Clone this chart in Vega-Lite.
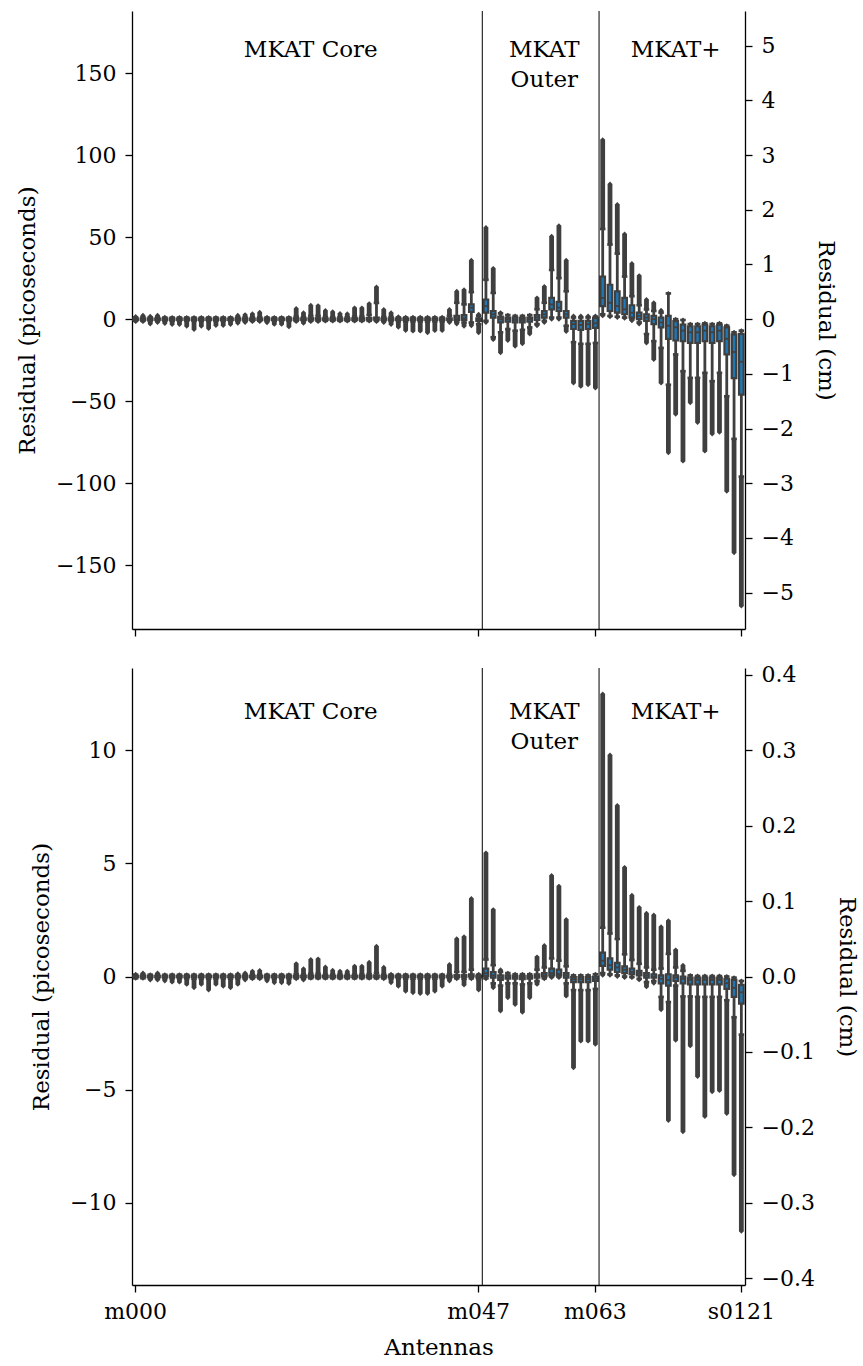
{
"$schema": "https://vega.github.io/schema/vega-lite/v6.json",
"padding": {"left": 16, "top": 10, "right": 3, "bottom": 5},
"spacing": 26,
"config": {
  "font": "DejaVu Serif",
  "view": {"stroke": null},
  "axis": {"labelFont": "DejaVu Serif", "titleFont": "DejaVu Serif", "labelFontSize": 22, "titleFontSize": 23, "titleFontWeight": "normal", "labelColor": "black", "titleColor": "black", "domainColor": "black", "tickColor": "black", "domainWidth": 1.3, "tickWidth": 1.3, "tickSize": 7, "labelPadding": 9, "grid": false}
},
"datasets": {
"p1": [
{"ant":"m000","lo":-1.5,"wlo":-1,"q1":-0.4,"med":0,"q3":0.4,"whi":1,"hi":1.6},
{"ant":"m001","lo":-1.5,"wlo":-1,"q1":-0.4,"med":0,"q3":0.4,"whi":1,"hi":2.4},
{"ant":"m002","lo":-3,"wlo":-1,"q1":-0.4,"med":0,"q3":0.4,"whi":1,"hi":1.8},
{"ant":"m003","lo":-2,"wlo":-1,"q1":-0.4,"med":0,"q3":0.4,"whi":1,"hi":2.4},
{"ant":"m004","lo":-2.6,"wlo":-1,"q1":-0.4,"med":0,"q3":0.4,"whi":1,"hi":1.2},
{"ant":"m005","lo":-3.3,"wlo":-1,"q1":-0.4,"med":0,"q3":0.4,"whi":1,"hi":1},
{"ant":"m006","lo":-3.3,"wlo":-1,"q1":-0.4,"med":0,"q3":0.4,"whi":1,"hi":1},
{"ant":"m007","lo":-4.3,"wlo":-1,"q1":-0.4,"med":0,"q3":0.4,"whi":1,"hi":1},
{"ant":"m008","lo":-6.3,"wlo":-1,"q1":-0.4,"med":0,"q3":0.4,"whi":1,"hi":1},
{"ant":"m009","lo":-4.3,"wlo":-1,"q1":-0.4,"med":0,"q3":0.4,"whi":1,"hi":1},
{"ant":"m010","lo":-5.7,"wlo":-1,"q1":-0.4,"med":0,"q3":0.4,"whi":1,"hi":1},
{"ant":"m011","lo":-3.9,"wlo":-1,"q1":-0.4,"med":0,"q3":0.4,"whi":1,"hi":1},
{"ant":"m012","lo":-3.9,"wlo":-1,"q1":-0.4,"med":0,"q3":0.4,"whi":1,"hi":1},
{"ant":"m013","lo":-3.3,"wlo":-1,"q1":-0.4,"med":0,"q3":0.4,"whi":1,"hi":1},
{"ant":"m014","lo":-2.5,"wlo":-1,"q1":-0.4,"med":0,"q3":0.4,"whi":1,"hi":2.4},
{"ant":"m015","lo":-2,"wlo":-1,"q1":-0.4,"med":0,"q3":0.4,"whi":1,"hi":2.8},
{"ant":"m016","lo":-1.5,"wlo":-1,"q1":-0.4,"med":0,"q3":0.4,"whi":1,"hi":3.3},
{"ant":"m017","lo":-1.5,"wlo":-1,"q1":-0.4,"med":0,"q3":0.4,"whi":1.2,"hi":4.2},
{"ant":"m018","lo":-2.2,"wlo":-1,"q1":-0.4,"med":0,"q3":0.4,"whi":1,"hi":1.2},
{"ant":"m019","lo":-3.2,"wlo":-1,"q1":-0.4,"med":0,"q3":0.4,"whi":1,"hi":1},
{"ant":"m020","lo":-3.2,"wlo":-1,"q1":-0.4,"med":0,"q3":0.4,"whi":1,"hi":1},
{"ant":"m021","lo":-4.7,"wlo":-1,"q1":-0.4,"med":0,"q3":0.4,"whi":1,"hi":1},
{"ant":"m022","lo":-1.5,"wlo":-1,"q1":-0.4,"med":0,"q3":0.5,"whi":1.5,"hi":6.5},
{"ant":"m023","lo":-2.5,"wlo":-1,"q1":-0.4,"med":0,"q3":0.4,"whi":1.2,"hi":3.9},
{"ant":"m024","lo":-1.5,"wlo":-1,"q1":-0.3,"med":0.2,"q3":0.6,"whi":2,"hi":8.5},
{"ant":"m025","lo":-1.5,"wlo":-1,"q1":-0.3,"med":0.2,"q3":0.6,"whi":2,"hi":8.3},
{"ant":"m026","lo":-1.2,"wlo":-1,"q1":-0.4,"med":0,"q3":0.4,"whi":1.3,"hi":5.3},
{"ant":"m027","lo":-1.2,"wlo":-1,"q1":-0.4,"med":0,"q3":0.4,"whi":1.2,"hi":4.5},
{"ant":"m028","lo":-1.2,"wlo":-1,"q1":-0.4,"med":0,"q3":0.4,"whi":1.1,"hi":3.5},
{"ant":"m029","lo":-1.2,"wlo":-1,"q1":-0.4,"med":0,"q3":0.4,"whi":1.1,"hi":3.3},
{"ant":"m030","lo":-1.2,"wlo":-1,"q1":-0.4,"med":0,"q3":0.5,"whi":1.5,"hi":6.9},
{"ant":"m031","lo":-1.2,"wlo":-1,"q1":-0.4,"med":0,"q3":0.5,"whi":1.5,"hi":6.9},
{"ant":"m032","lo":-1.2,"wlo":-1,"q1":-0.3,"med":0.2,"q3":0.7,"whi":2.5,"hi":9.5},
{"ant":"m033","lo":-1.5,"wlo":-1,"q1":-0.3,"med":0.3,"q3":1,"whi":9.9,"hi":19.7},
{"ant":"m034","lo":-2,"wlo":-1,"q1":-0.4,"med":0,"q3":0.4,"whi":1.3,"hi":5.9},
{"ant":"m035","lo":-3.3,"wlo":-1,"q1":-0.4,"med":0,"q3":0.4,"whi":1.2,"hi":3.9},
{"ant":"m036","lo":-4.9,"wlo":-1.2,"q1":-0.4,"med":0,"q3":0.4,"whi":1,"hi":1.5},
{"ant":"m037","lo":-6.9,"wlo":-1.3,"q1":-0.5,"med":0,"q3":0.4,"whi":1,"hi":1.2},
{"ant":"m038","lo":-7.3,"wlo":-1.3,"q1":-0.5,"med":0,"q3":0.4,"whi":1,"hi":1.2},
{"ant":"m039","lo":-7.3,"wlo":-1.3,"q1":-0.5,"med":0,"q3":0.4,"whi":1,"hi":1.2},
{"ant":"m040","lo":-8.3,"wlo":-1.5,"q1":-0.5,"med":0,"q3":0.4,"whi":1,"hi":1.2},
{"ant":"m041","lo":-7,"wlo":-1.3,"q1":-0.5,"med":0,"q3":0.4,"whi":1,"hi":1.2},
{"ant":"m042","lo":-7,"wlo":-1.3,"q1":-0.5,"med":0,"q3":0.4,"whi":1,"hi":1.2},
{"ant":"m043","lo":-2,"wlo":-1,"q1":-0.4,"med":0,"q3":0.5,"whi":2,"hi":5.9},
{"ant":"m044","lo":-3,"wlo":-1.5,"q1":-0.5,"med":0.5,"q3":2,"whi":10,"hi":17},
{"ant":"m045","lo":-4.3,"wlo":-2,"q1":-0.5,"med":0.5,"q3":2.5,"whi":9,"hi":18},
{"ant":"m046","lo":-4,"wlo":-2,"q1":4.5,"med":7,"q3":9,"whi":16.5,"hi":36},
{"ant":"m047","lo":-8.3,"wlo":-3,"q1":-1,"med":-0.3,"q3":0.5,"whi":2,"hi":3},
{"ant":"m048","lo":-2,"wlo":-1,"q1":4,"med":8,"q3":12,"whi":24,"hi":56},
{"ant":"m049","lo":-12.5,"wlo":-11,"q1":1,"med":3,"q3":5,"whi":16,"hi":31},
{"ant":"m050","lo":-20.5,"wlo":-8,"q1":-2,"med":0,"q3":1.5,"whi":3.5,"hi":4},
{"ant":"m051","lo":-13,"wlo":-6,"q1":-1.5,"med":0,"q3":1,"whi":2.5,"hi":2.5},
{"ant":"m052","lo":-16.5,"wlo":-7,"q1":-2,"med":-0.5,"q3":1,"whi":2,"hi":2},
{"ant":"m053","lo":-15,"wlo":-6.5,"q1":-2,"med":-0.5,"q3":0.8,"whi":2,"hi":2},
{"ant":"m054","lo":-9,"wlo":-5,"q1":-1.5,"med":0,"q3":1,"whi":2.5,"hi":2.5},
{"ant":"m055","lo":-4,"wlo":-3,"q1":-0.5,"med":1,"q3":2.5,"whi":6,"hi":13},
{"ant":"m056","lo":-2,"wlo":-1,"q1":1,"med":3,"q3":5,"whi":10,"hi":20},
{"ant":"m057","lo":0,"wlo":1,"q1":6,"med":9,"q3":13,"whi":30,"hi":50.6},
{"ant":"m058","lo":0,"wlo":1,"q1":5,"med":7,"q3":10.5,"whi":25,"hi":57},
{"ant":"m059","lo":-7.5,"wlo":-4,"q1":1,"med":3,"q3":5,"whi":17,"hi":36},
{"ant":"m060","lo":-39,"wlo":-14,"q1":-6,"med":-3,"q3":-1,"whi":1,"hi":2},
{"ant":"m061","lo":-41,"wlo":-15,"q1":-6.5,"med":-3.5,"q3":-1,"whi":1,"hi":2},
{"ant":"m062","lo":-40,"wlo":-15,"q1":-6,"med":-3,"q3":-1,"whi":1,"hi":2},
{"ant":"m063","lo":-42,"wlo":-14.5,"q1":-5.3,"med":-2.5,"q3":0.8,"whi":1.5,"hi":2},
{"ant":"s0000","lo":2,"wlo":3,"q1":8,"med":13,"q3":26,"whi":55,"hi":109.5},
{"ant":"s0001","lo":1.5,"wlo":2,"q1":5,"med":10,"q3":21,"whi":45.5,"hi":82.5},
{"ant":"s0002","lo":1,"wlo":1.5,"q1":4,"med":8,"q3":17,"whi":40,"hi":70},
{"ant":"s0003","lo":0.5,"wlo":1,"q1":3,"med":6,"q3":13,"whi":26,"hi":52},
{"ant":"s0005","lo":-1,"wlo":0,"q1":1,"med":4,"q3":8.5,"whi":14,"hi":34},
{"ant":"s0006","lo":-3,"wlo":-2,"q1":0,"med":2,"q3":4,"whi":8.5,"hi":26.6},
{"ant":"s0017","lo":-14.5,"wlo":-9,"q1":-1,"med":1,"q3":3,"whi":6,"hi":12},
{"ant":"s0018","lo":-24.6,"wlo":-13.4,"q1":-3,"med":0,"q3":2,"whi":5,"hi":10},
{"ant":"s0020","lo":-39,"wlo":-17.5,"q1":-5,"med":-2,"q3":1,"whi":4,"hi":5.5},
{"ant":"s0023","lo":-81.5,"wlo":-40,"q1":-12,"med":-4,"q3":2,"whi":15.7,"hi":15.7},
{"ant":"s0033","lo":-58,"wlo":-21.5,"q1":-13,"med":-5,"q3":-1.2,"whi":0,"hi":0},
{"ant":"s0036","lo":-86.6,"wlo":-31.7,"q1":-13.4,"med":-7,"q3":-3.3,"whi":-0.5,"hi":-0.5},
{"ant":"s0063","lo":-51,"wlo":-35.8,"q1":-14.4,"med":-8,"q3":-4.3,"whi":-3,"hi":-3},
{"ant":"s0070","lo":-63,"wlo":-35.8,"q1":-14.4,"med":-8,"q3":-4.3,"whi":-3,"hi":-3},
{"ant":"s0081","lo":-80.5,"wlo":-32.7,"q1":-13.4,"med":-7,"q3":-3.3,"whi":-2.5,"hi":-2.5},
{"ant":"s0082","lo":-70,"wlo":-37.8,"q1":-14.4,"med":-8,"q3":-4.3,"whi":-3,"hi":-3},
{"ant":"s0083","lo":-69,"wlo":-32.7,"q1":-13.4,"med":-7,"q3":-3.3,"whi":-2.5,"hi":-2.5},
{"ant":"s0115","lo":-105,"wlo":-47,"q1":-21.5,"med":-12,"q3":-5,"whi":-4,"hi":-4},
{"ant":"s0117","lo":-142.5,"wlo":-73,"q1":-36,"med":-20,"q3":-9.3,"whi":-8,"hi":-8},
{"ant":"s0121","lo":-175,"wlo":-96,"q1":-46,"med":-26,"q3":-9,"whi":-7,"hi":-7}
],
"p2": [
{"ant":"m000","lo":-0.08,"wlo":-0.08,"q1":-0.03,"med":0,"q3":0.03,"whi":0.08,"hi":0.1},
{"ant":"m001","lo":-0.08,"wlo":-0.08,"q1":-0.03,"med":0,"q3":0.03,"whi":0.08,"hi":0.16},
{"ant":"m002","lo":-0.16,"wlo":-0.08,"q1":-0.03,"med":0,"q3":0.03,"whi":0.08,"hi":0.08},
{"ant":"m003","lo":-0.16,"wlo":-0.08,"q1":-0.03,"med":0,"q3":0.03,"whi":0.08,"hi":0.16},
{"ant":"m004","lo":-0.2,"wlo":-0.08,"q1":-0.03,"med":0,"q3":0.03,"whi":0.08,"hi":0.08},
{"ant":"m005","lo":-0.25,"wlo":-0.08,"q1":-0.03,"med":0,"q3":0.03,"whi":0.08,"hi":0.08},
{"ant":"m006","lo":-0.25,"wlo":-0.08,"q1":-0.03,"med":0,"q3":0.03,"whi":0.08,"hi":0.08},
{"ant":"m007","lo":-0.35,"wlo":-0.08,"q1":-0.03,"med":0,"q3":0.03,"whi":0.08,"hi":0.08},
{"ant":"m008","lo":-0.5,"wlo":-0.1,"q1":-0.03,"med":0,"q3":0.03,"whi":0.08,"hi":0.08},
{"ant":"m009","lo":-0.35,"wlo":-0.08,"q1":-0.03,"med":0,"q3":0.03,"whi":0.08,"hi":0.08},
{"ant":"m010","lo":-0.6,"wlo":-0.1,"q1":-0.03,"med":0,"q3":0.03,"whi":0.08,"hi":0.08},
{"ant":"m011","lo":-0.35,"wlo":-0.08,"q1":-0.03,"med":0,"q3":0.03,"whi":0.08,"hi":0.08},
{"ant":"m012","lo":-0.43,"wlo":-0.08,"q1":-0.03,"med":0,"q3":0.03,"whi":0.08,"hi":0.08},
{"ant":"m013","lo":-0.5,"wlo":-0.1,"q1":-0.03,"med":0,"q3":0.03,"whi":0.08,"hi":0.08},
{"ant":"m014","lo":-0.35,"wlo":-0.08,"q1":-0.03,"med":0,"q3":0.03,"whi":0.08,"hi":0.12},
{"ant":"m015","lo":-0.16,"wlo":-0.08,"q1":-0.03,"med":0,"q3":0.03,"whi":0.08,"hi":0.16},
{"ant":"m016","lo":-0.1,"wlo":-0.08,"q1":-0.03,"med":0,"q3":0.03,"whi":0.08,"hi":0.24},
{"ant":"m017","lo":-0.1,"wlo":-0.08,"q1":-0.03,"med":0,"q3":0.03,"whi":0.08,"hi":0.27},
{"ant":"m018","lo":-0.2,"wlo":-0.08,"q1":-0.03,"med":0,"q3":0.03,"whi":0.08,"hi":0.08},
{"ant":"m019","lo":-0.28,"wlo":-0.08,"q1":-0.03,"med":0,"q3":0.03,"whi":0.08,"hi":0.08},
{"ant":"m020","lo":-0.28,"wlo":-0.08,"q1":-0.03,"med":0,"q3":0.03,"whi":0.08,"hi":0.08},
{"ant":"m021","lo":-0.31,"wlo":-0.08,"q1":-0.03,"med":0,"q3":0.03,"whi":0.08,"hi":0.08},
{"ant":"m022","lo":-0.1,"wlo":-0.08,"q1":-0.03,"med":0,"q3":0.03,"whi":0.1,"hi":0.57},
{"ant":"m023","lo":-0.16,"wlo":-0.08,"q1":-0.03,"med":0,"q3":0.03,"whi":0.08,"hi":0.34},
{"ant":"m024","lo":-0.08,"wlo":-0.08,"q1":-0.03,"med":0,"q3":0.04,"whi":0.12,"hi":0.75},
{"ant":"m025","lo":-0.08,"wlo":-0.08,"q1":-0.03,"med":0,"q3":0.04,"whi":0.12,"hi":0.78},
{"ant":"m026","lo":-0.08,"wlo":-0.08,"q1":-0.03,"med":0,"q3":0.03,"whi":0.08,"hi":0.42},
{"ant":"m027","lo":-0.08,"wlo":-0.08,"q1":-0.03,"med":0,"q3":0.03,"whi":0.08,"hi":0.28},
{"ant":"m028","lo":-0.08,"wlo":-0.08,"q1":-0.03,"med":0,"q3":0.03,"whi":0.08,"hi":0.24},
{"ant":"m029","lo":-0.08,"wlo":-0.08,"q1":-0.03,"med":0,"q3":0.03,"whi":0.08,"hi":0.24},
{"ant":"m030","lo":-0.08,"wlo":-0.08,"q1":-0.03,"med":0,"q3":0.03,"whi":0.08,"hi":0.46},
{"ant":"m031","lo":-0.08,"wlo":-0.08,"q1":-0.03,"med":0,"q3":0.03,"whi":0.08,"hi":0.46},
{"ant":"m032","lo":-0.08,"wlo":-0.08,"q1":-0.03,"med":0,"q3":0.04,"whi":0.1,"hi":0.63},
{"ant":"m033","lo":-0.08,"wlo":-0.08,"q1":-0.03,"med":0,"q3":0.05,"whi":0.15,"hi":1.34},
{"ant":"m034","lo":-0.1,"wlo":-0.08,"q1":-0.03,"med":0,"q3":0.03,"whi":0.08,"hi":0.41},
{"ant":"m035","lo":-0.28,"wlo":-0.08,"q1":-0.03,"med":0,"q3":0.03,"whi":0.08,"hi":0.1},
{"ant":"m036","lo":-0.43,"wlo":-0.08,"q1":-0.03,"med":0,"q3":0.03,"whi":0.08,"hi":0.08},
{"ant":"m037","lo":-0.65,"wlo":-0.1,"q1":-0.03,"med":0,"q3":0.03,"whi":0.08,"hi":0.08},
{"ant":"m038","lo":-0.72,"wlo":-0.1,"q1":-0.03,"med":0,"q3":0.03,"whi":0.08,"hi":0.08},
{"ant":"m039","lo":-0.75,"wlo":-0.1,"q1":-0.03,"med":0,"q3":0.03,"whi":0.08,"hi":0.08},
{"ant":"m040","lo":-0.75,"wlo":-0.1,"q1":-0.03,"med":0,"q3":0.03,"whi":0.08,"hi":0.08},
{"ant":"m041","lo":-0.65,"wlo":-0.1,"q1":-0.03,"med":0,"q3":0.03,"whi":0.08,"hi":0.08},
{"ant":"m042","lo":-0.43,"wlo":-0.08,"q1":-0.03,"med":0,"q3":0.03,"whi":0.08,"hi":0.08},
{"ant":"m043","lo":-0.2,"wlo":-0.08,"q1":-0.03,"med":0,"q3":0.03,"whi":0.1,"hi":0.53},
{"ant":"m044","lo":-0.1,"wlo":-0.08,"q1":-0.02,"med":0.02,"q3":0.06,"whi":0.2,"hi":1.67},
{"ant":"m045","lo":-0.38,"wlo":-0.1,"q1":-0.02,"med":0.02,"q3":0.06,"whi":0.2,"hi":1.76},
{"ant":"m046","lo":-0.1,"wlo":-0.08,"q1":0,"med":0.05,"q3":0.1,"whi":0.3,"hi":3.45},
{"ant":"m047","lo":-0.6,"wlo":-0.12,"q1":-0.04,"med":0,"q3":0.03,"whi":0.08,"hi":0.1},
{"ant":"m048","lo":-0.1,"wlo":-0.08,"q1":0.03,"med":0.15,"q3":0.35,"whi":0.75,"hi":5.47},
{"ant":"m049","lo":-0.5,"wlo":-0.3,"q1":-0.05,"med":0.05,"q3":0.2,"whi":0.5,"hi":2.96},
{"ant":"m050","lo":-1.53,"wlo":-0.4,"q1":-0.15,"med":-0.05,"q3":0.05,"whi":0.2,"hi":0.3},
{"ant":"m051","lo":-0.94,"wlo":-0.3,"q1":-0.1,"med":-0.03,"q3":0.05,"whi":0.15,"hi":0.15},
{"ant":"m052","lo":-1.24,"wlo":-0.3,"q1":-0.1,"med":-0.03,"q3":0.03,"whi":0.1,"hi":0.1},
{"ant":"m053","lo":-1.58,"wlo":-0.35,"q1":-0.12,"med":-0.04,"q3":0.03,"whi":0.1,"hi":0.1},
{"ant":"m054","lo":-0.94,"wlo":-0.3,"q1":-0.1,"med":-0.03,"q3":0.03,"whi":0.1,"hi":0.1},
{"ant":"m055","lo":-0.35,"wlo":-0.2,"q1":-0.05,"med":0.02,"q3":0.1,"whi":0.3,"hi":0.87},
{"ant":"m056","lo":-0.1,"wlo":-0.08,"q1":0,"med":0.05,"q3":0.15,"whi":0.4,"hi":1.37},
{"ant":"m057","lo":-0.05,"wlo":0,"q1":0.05,"med":0.15,"q3":0.35,"whi":0.8,"hi":4.47},
{"ant":"m058","lo":-0.05,"wlo":0,"q1":0.05,"med":0.12,"q3":0.3,"whi":0.7,"hi":4.0},
{"ant":"m059","lo":-0.87,"wlo":-0.3,"q1":-0.05,"med":0.05,"q3":0.15,"whi":0.45,"hi":2.52},
{"ant":"m060","lo":-4.04,"wlo":-0.6,"q1":-0.25,"med":-0.12,"q3":-0.03,"whi":0.05,"hi":0.05},
{"ant":"m061","lo":-2.86,"wlo":-0.6,"q1":-0.25,"med":-0.12,"q3":-0.03,"whi":0.05,"hi":0.05},
{"ant":"m062","lo":-2.86,"wlo":-0.6,"q1":-0.25,"med":-0.12,"q3":-0.03,"whi":0.05,"hi":0.05},
{"ant":"m063","lo":-3.0,"wlo":-0.55,"q1":-0.2,"med":-0.1,"q3":0,"whi":0.1,"hi":0.1},
{"ant":"s0000","lo":0.05,"wlo":0.15,"q1":0.47,"med":0.7,"q3":1.06,"whi":2.16,"hi":12.5},
{"ant":"s0001","lo":0.05,"wlo":0.1,"q1":0.3,"med":0.5,"q3":0.8,"whi":1.9,"hi":9.8},
{"ant":"s0002","lo":0,"wlo":0.05,"q1":0.2,"med":0.4,"q3":0.6,"whi":1.66,"hi":7.57},
{"ant":"s0003","lo":-0.05,"wlo":0,"q1":0.15,"med":0.3,"q3":0.45,"whi":0.98,"hi":4.83},
{"ant":"s0005","lo":-0.05,"wlo":-0.02,"q1":0.1,"med":0.2,"q3":0.35,"whi":0.73,"hi":3.6},
{"ant":"s0006","lo":-0.15,"wlo":-0.1,"q1":0.05,"med":0.15,"q3":0.25,"whi":0.56,"hi":3.06},
{"ant":"s0017","lo":-0.46,"wlo":-0.25,"q1":-0.05,"med":0.05,"q3":0.15,"whi":0.4,"hi":2.8},
{"ant":"s0018","lo":-0.3,"wlo":-0.2,"q1":-0.05,"med":0,"q3":0.1,"whi":0.3,"hi":2.72},
{"ant":"s0020","lo":-1.47,"wlo":-0.9,"q1":-0.3,"med":-0.1,"q3":0.05,"whi":0.35,"hi":2.2},
{"ant":"s0023","lo":-6.37,"wlo":-1.13,"q1":-0.4,"med":-0.15,"q3":0.1,"whi":1.0,"hi":2.47},
{"ant":"s0033","lo":-2.82,"wlo":-0.4,"q1":-0.2,"med":-0.05,"q3":0.05,"whi":0.4,"hi":1.18},
{"ant":"s0036","lo":-6.87,"wlo":-0.88,"q1":-0.3,"med":-0.1,"q3":0,"whi":0.25,"hi":0.5},
{"ant":"s0063","lo":-3.07,"wlo":-0.88,"q1":-0.35,"med":-0.15,"q3":-0.05,"whi":0.05,"hi":0.05},
{"ant":"s0070","lo":-4.43,"wlo":-0.9,"q1":-0.35,"med":-0.15,"q3":-0.05,"whi":0.02,"hi":0.02},
{"ant":"s0081","lo":-6.2,"wlo":-0.9,"q1":-0.35,"med":-0.15,"q3":-0.05,"whi":0.02,"hi":0.02},
{"ant":"s0082","lo":-5.1,"wlo":-0.9,"q1":-0.35,"med":-0.15,"q3":-0.05,"whi":0.02,"hi":0.02},
{"ant":"s0083","lo":-5.05,"wlo":-0.9,"q1":-0.35,"med":-0.15,"q3":-0.05,"whi":0.02,"hi":0.02},
{"ant":"s0115","lo":-6.06,"wlo":-1.05,"q1":-0.55,"med":-0.3,"q3":-0.1,"whi":0,"hi":0},
{"ant":"s0117","lo":-8.77,"wlo":-1.8,"q1":-0.9,"med":-0.5,"q3":-0.15,"whi":-0.05,"hi":-0.05},
{"ant":"s0121","lo":-11.27,"wlo":-2.57,"q1":-1.2,"med":-0.7,"q3":-0.37,"whi":-0.2,"hi":-0.2}
]
},
"vconcat": [
{
  "width": 613, "height": 618,
  "resolve": {"scale": {"y": "independent"}},
  "layer": [
    {
      "data": {"name": "p1"},
      "encoding": {"x": {"field": "ant", "type": "nominal", "scale": {"type": "band", "paddingInner": 0, "paddingOuter": 0}, "axis": {"values": ["m000","m047","m063","s0121"], "labels": false, "title": null}}},
      "layer": [
        {"mark": {"type": "rule", "color": "#3f3f3f", "strokeWidth": 4.8}, "encoding": {"y": {"field": "lo", "type": "quantitative", "scale": {"domain": [-189, 188], "nice": false, "zero": false}, "axis": {"title": "Residual (picoseconds)", "values": [-150,-100,-50,0,50,100,150], "format": "d", "titlePadding": 16}}, "y2": {"field": "wlo"}}},
        {"mark": {"type": "rule", "color": "#3f3f3f", "strokeWidth": 4.8}, "encoding": {"y": {"field": "whi", "type": "quantitative"}, "y2": {"field": "hi"}}},
        {"mark": {"type": "point", "shape": "diamond", "filled": true, "size": 24, "color": "#3f3f3f", "opacity": 1}, "encoding": {"y": {"field": "lo", "type": "quantitative"}}},
        {"mark": {"type": "point", "shape": "diamond", "filled": true, "size": 24, "color": "#3f3f3f", "opacity": 1}, "encoding": {"y": {"field": "hi", "type": "quantitative"}}},
        {"mark": {"type": "rule", "color": "#3f3f3f", "strokeWidth": 2.8}, "encoding": {"y": {"field": "wlo", "type": "quantitative"}, "y2": {"field": "whi"}}},
        {"mark": {"type": "tick", "color": "#3f3f3f", "size": 5.5, "thickness": 2.6, "opacity": 1}, "encoding": {"y": {"field": "wlo", "type": "quantitative"}}},
        {"mark": {"type": "tick", "color": "#3f3f3f", "size": 5.5, "thickness": 2.6, "opacity": 1}, "encoding": {"y": {"field": "whi", "type": "quantitative"}}},
        {"mark": {"type": "bar", "fill": "#1f77b4", "stroke": "#3f3f3f", "strokeWidth": 2.2, "width": {"band": 0.63}}, "encoding": {"y": {"field": "q1", "type": "quantitative"}, "y2": {"field": "q3"}}},
        {"mark": {"type": "tick", "color": "#3f3f3f", "size": 5, "thickness": 1.8, "opacity": 1}, "encoding": {"y": {"field": "med", "type": "quantitative"}}}
      ]
    },
    {
      "data": {"values": [{"ant": "m047"}, {"ant": "m063"}]},
      "mark": {"type": "rule", "color": "black", "strokeWidth": 1},
      "encoding": {"x": {"field": "ant", "type": "nominal", "bandPosition": 1}}
    },
    {
      "data": {"values": [{"ant": "m024", "y": 171, "t": "MKAT Core"}, {"ant": "m056", "y": 171, "t": "MKAT\nOuter"}, {"ant": "s0033", "y": 171, "t": "MKAT+"}]},
      "mark": {"type": "text", "fontSize": 23, "baseline": "top", "align": "center", "lineBreak": "\n", "lineHeight": 30, "font": "DejaVu Serif", "color": "black"},
      "encoding": {"x": {"field": "ant", "type": "nominal"}, "y": {"field": "y", "type": "quantitative", "scale": {"domain": [-189, 188], "nice": false, "zero": false}, "axis": null}, "text": {"field": "t"}}
    },
    {
      "data": {"values": [{}]},
      "mark": {"type": "rule", "opacity": 0},
      "encoding": {"y": {"datum": 0, "type": "quantitative", "scale": {"domain": [-5.666, 5.636], "nice": false, "zero": false}, "axis": {"orient": "right", "title": "Residual (cm)", "values": [-5,-4,-3,-2,-1,0,1,2,3,4,5], "format": "d", "titlePadding": 20}}}
    }
  ]
},
{
  "width": 613, "height": 617,
  "resolve": {"scale": {"y": "independent"}},
  "layer": [
    {
      "data": {"name": "p2"},
      "encoding": {"x": {"field": "ant", "type": "nominal", "scale": {"type": "band", "paddingInner": 0, "paddingOuter": 0}, "axis": {"values": ["m000","m047","m063","s0121"], "labelAngle": 0, "title": "Antennas", "titlePadding": 14}}},
      "layer": [
        {"mark": {"type": "rule", "color": "#3f3f3f", "strokeWidth": 4.8}, "encoding": {"y": {"field": "lo", "type": "quantitative", "scale": {"domain": [-13.65, 13.65], "nice": false, "zero": false}, "axis": {"title": "Residual (picoseconds)", "values": [-10,-5,0,5,10], "format": "d", "titlePadding": 16}}, "y2": {"field": "wlo"}}},
        {"mark": {"type": "rule", "color": "#3f3f3f", "strokeWidth": 4.8}, "encoding": {"y": {"field": "whi", "type": "quantitative"}, "y2": {"field": "hi"}}},
        {"mark": {"type": "point", "shape": "diamond", "filled": true, "size": 24, "color": "#3f3f3f", "opacity": 1}, "encoding": {"y": {"field": "lo", "type": "quantitative"}}},
        {"mark": {"type": "point", "shape": "diamond", "filled": true, "size": 24, "color": "#3f3f3f", "opacity": 1}, "encoding": {"y": {"field": "hi", "type": "quantitative"}}},
        {"mark": {"type": "rule", "color": "#3f3f3f", "strokeWidth": 2.8}, "encoding": {"y": {"field": "wlo", "type": "quantitative"}, "y2": {"field": "whi"}}},
        {"mark": {"type": "tick", "color": "#3f3f3f", "size": 5.5, "thickness": 2.6, "opacity": 1}, "encoding": {"y": {"field": "wlo", "type": "quantitative"}}},
        {"mark": {"type": "tick", "color": "#3f3f3f", "size": 5.5, "thickness": 2.6, "opacity": 1}, "encoding": {"y": {"field": "whi", "type": "quantitative"}}},
        {"mark": {"type": "bar", "fill": "#1f77b4", "stroke": "#3f3f3f", "strokeWidth": 2.2, "width": {"band": 0.63}}, "encoding": {"y": {"field": "q1", "type": "quantitative"}, "y2": {"field": "q3"}}},
        {"mark": {"type": "tick", "color": "#3f3f3f", "size": 5, "thickness": 1.8, "opacity": 1}, "encoding": {"y": {"field": "med", "type": "quantitative"}}}
      ]
    },
    {
      "data": {"values": [{"ant": "m047"}, {"ant": "m063"}]},
      "mark": {"type": "rule", "color": "black", "strokeWidth": 1},
      "encoding": {"x": {"field": "ant", "type": "nominal", "bandPosition": 1}}
    },
    {
      "data": {"values": [{"ant": "m024", "y": 12.2, "t": "MKAT Core"}, {"ant": "m056", "y": 12.2, "t": "MKAT\nOuter"}, {"ant": "s0033", "y": 12.2, "t": "MKAT+"}]},
      "mark": {"type": "text", "fontSize": 23, "baseline": "top", "align": "center", "lineBreak": "\n", "lineHeight": 30, "font": "DejaVu Serif", "color": "black"},
      "encoding": {"x": {"field": "ant", "type": "nominal"}, "y": {"field": "y", "type": "quantitative", "scale": {"domain": [-13.65, 13.65], "nice": false, "zero": false}, "axis": null}, "text": {"field": "t"}}
    },
    {
      "data": {"values": [{}]},
      "mark": {"type": "rule", "opacity": 0},
      "encoding": {"y": {"datum": 0, "type": "quantitative", "scale": {"domain": [-0.4092, 0.4092], "nice": false, "zero": false}, "axis": {"orient": "right", "title": "Residual (cm)", "values": [-0.4,-0.3,-0.2,-0.1,0,0.1,0.2,0.3,0.4], "format": ".1f", "titlePadding": 20}}}
    }
  ]
}
]
}
